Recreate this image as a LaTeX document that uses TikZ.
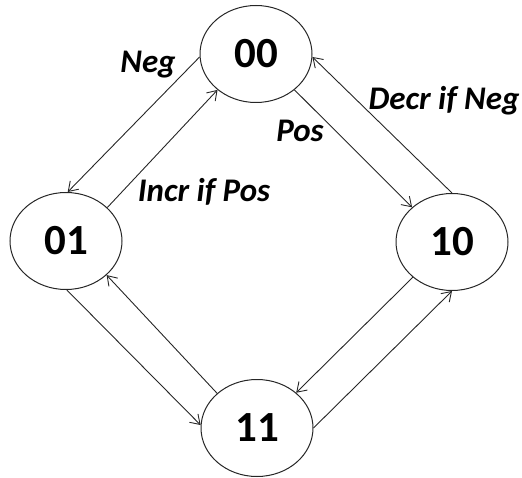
\documentclass[tikz,border=0pt]{standalone}
\usepackage{fontspec}
\setmainfont{Carlito}
\usetikzlibrary{arrows.meta,shapes.geometric}
\begin{document}
\begin{tikzpicture}[x=1pt,y=-1pt,
  state/.style={draw=black!85, line width=1pt, ellipse, minimum width=112pt, minimum height=97pt, inner sep=0pt,
    font=\fontsize{43}{43}\selectfont\bfseries},
  edge/.style={draw=black!85, line width=0.9pt, -{Straight Barb[length=9pt,width=12pt]}},
  lbl/.style={font=\fontsize{33}{33}\selectfont\bfseries\itshape, inner sep=0pt, anchor=base}]
\useasboundingbox (0,0) rectangle (522,478);
\node[state] (s00) at (256,54) {00};
\node[state] (s01) at (66,241) {01};
\node[state] (s10) at (452,242) {10};
\node[state] (s11) at (257,428) {11};
\draw[edge] (s00.183) -- (s01.88);
\draw[edge] (s01.39) -- (s00.223);
\draw[edge] (s00.317) -- (s10.139);
\draw[edge] (s10.90) -- (s00.357);
\draw[edge] (s10.222) -- (s11.42);
\draw[edge] (s11.0) -- (s10.270);
\draw[edge] (s01.271) -- (s11.177);
\draw[edge] (s11.139) -- (s01.320);
\node[lbl] (lneg) at (148,73) {Neg};
\node[lbl] (lincr) at (204,202) {Incr if Pos};
\node[lbl] (lpos) at (300,142) {Pos};
\node[lbl] (ldecr) at (444,110) {Decr if Neg};
\end{tikzpicture}
\end{document}
